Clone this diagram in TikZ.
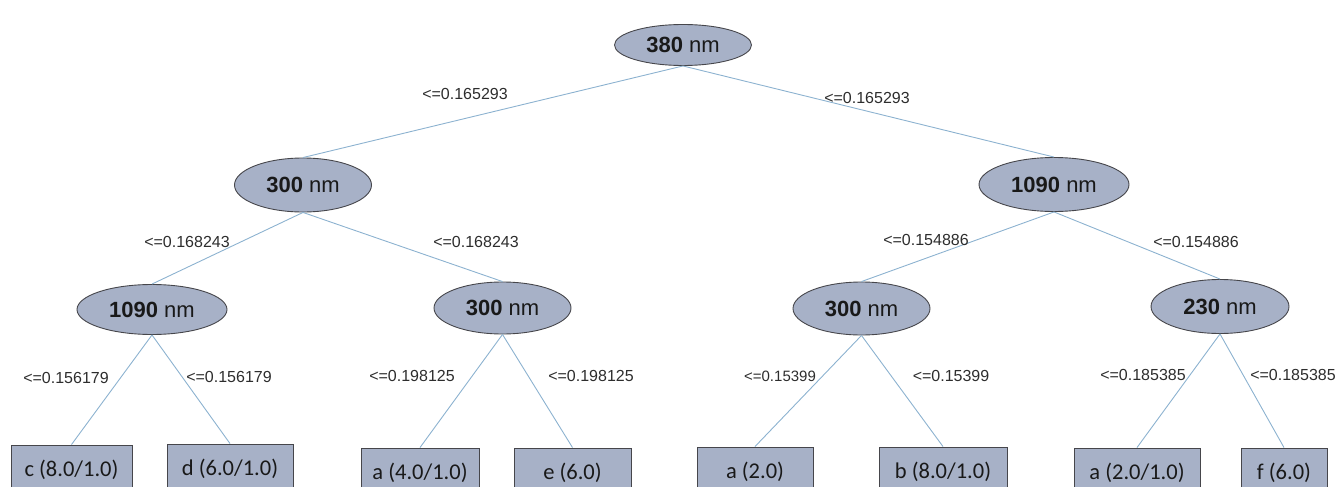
\documentclass[tikz,border=0pt]{standalone}
\usepackage{fontspec}
\setmainfont{Liberation Sans}
\newfontfamily\leaffont{Carlito}
\usetikzlibrary{shapes.geometric}
\definecolor{nodefill}{RGB}{167,177,199}
\definecolor{nodeline}{RGB}{70,70,75}
\definecolor{edgecol}{RGB}{140,178,208}
\definecolor{txt}{RGB}{25,25,25}
\definecolor{lbltxt}{RGB}{45,45,45}
\tikzset{
  split/.style={ellipse, draw=nodeline, line width=0.9pt, fill=nodefill, inner sep=0pt,
    minimum width=137pt, minimum height=54pt, text=txt, font=\fontsize{22}{26}\selectfont},
  leaf/.style={rectangle, draw=nodeline, line width=0.9pt, fill=nodefill, inner sep=0pt,
    minimum width=#1, minimum height=50pt, text=txt, font=\leaffont\fontsize{22.5}{26}\selectfont},
  lbl/.style={inner sep=0pt, text=lbltxt, font=\fontsize{16}{19}\selectfont},
  edge/.style={draw=edgecol, line width=0.9pt}
}
\begin{document}
\begin{tikzpicture}[x=1pt,y=-1pt]
\useasboundingbox (0,0) rectangle (1338,487);
\clip (0,0) rectangle (1338,487);
% split nodes
\node[split, minimum height=41pt] (root) at (683,45) {\textbf{380} nm};
\node[split] (la) at (303,185) {\textbf{300} nm};
\node[split, minimum width=150pt] (ra) at (1054,184.5) {\textbf{1090} nm};
\node[split, minimum width=150pt, minimum height=50pt] (laa) at (152,309.5) {\textbf{1090} nm};
\node[split, minimum height=52pt] (lab) at (502.5,308) {\textbf{300} nm};
\node[split, minimum height=53pt] (raa) at (861.5,308.5) {\textbf{300} nm};
\node[split, minimum width=138pt] (rab) at (1220,306.5) {\textbf{230} nm};
% leaves
\node[leaf=121pt] (l1) at (71.5,470) {c (8.0/1.0)};
\node[leaf=126pt] (l2) at (230,469) {d (6.0/1.0)};
\node[leaf=118pt] (l3) at (420,473) {a (4.0/1.0)};
\node[leaf=117pt] (l4) at (572.5,473) {e (6.0)};
\node[leaf=116pt] (l5) at (755,472) {a (2.0)};
\node[leaf=128pt] (l6) at (943,472) {b (8.0/1.0)};
\node[leaf=126pt] (l7) at (1137,473) {a (2.0/1.0)};
\node[leaf=86pt] (l8) at (1284,473) {f (6.0)};
% edges
\draw[edge] (root.south) -- (la.north);
\draw[edge] (root.south) -- (ra.north);
\draw[edge] (la.south) -- (laa.north);
\draw[edge] (la.south) -- (lab.north);
\draw[edge] (ra.south) -- (raa.north);
\draw[edge] (ra.south) -- (rab.north);
\draw[edge] (laa.south) -- (l1.north);
\draw[edge] (laa.south) -- (l2.north);
\draw[edge] (lab.south) -- (l3.north);
\draw[edge] (lab.south) -- (l4.north);
\draw[edge] (raa.south) -- (l5.north);
\draw[edge] (raa.south) -- (l6.north);
\draw[edge] (rab.south) -- (l7.north);
\draw[edge] (rab.south) -- (l8.north);
% labels
\node[lbl] (t1) at (465,94) {<=0.165293};
\node[lbl] (t2) at (867,98) {<=0.165293};
\node[lbl] (t3) at (187,242) {<=0.168243};
\node[lbl] (t4) at (476,242) {<=0.168243};
\node[lbl] (t5) at (926,240) {<=0.154886};
\node[lbl] (t6) at (1196,242) {<=0.154886};
\node[lbl] (t7) at (66,378) {<=0.156179};
\node[lbl] (t8) at (229,377) {<=0.156179};
\node[lbl] (t9) at (412,376) {<=0.198125};
\node[lbl] (t10) at (591,376) {<=0.198125};
\node[lbl, font=\fontsize{15}{18}\selectfont] (t11) at (780,376) {<=0.15399};
\node[lbl] (t12) at (951,376) {<=0.15399};
\node[lbl] (t13) at (1143,375) {<=0.185385};
\node[lbl] (t14) at (1293,375) {<=0.185385};
\end{tikzpicture}
\end{document}
